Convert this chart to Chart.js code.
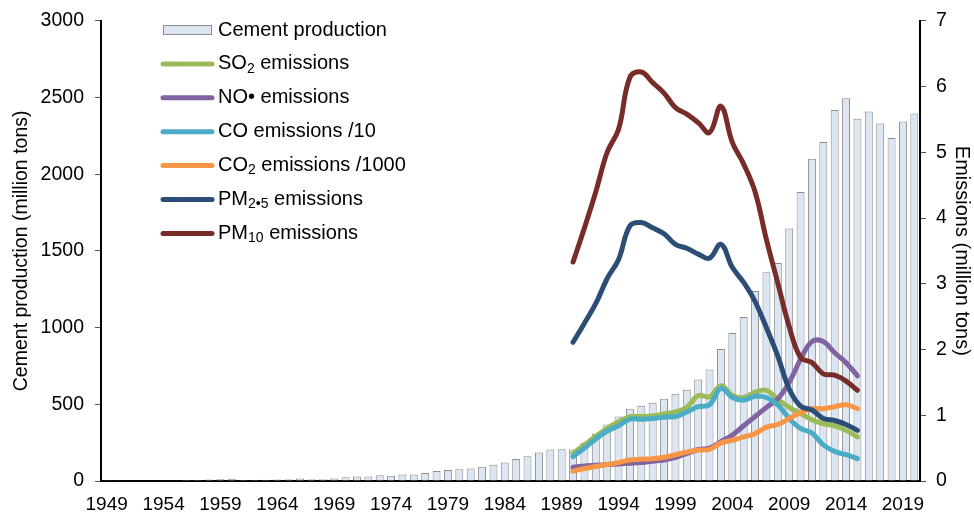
<!DOCTYPE html>
<html>
<head>
<meta charset="utf-8">
<script src="https://cdn.jsdelivr.net/npm/chart.js@4.4.1/dist/chart.umd.min.js"></script>
<style>
  html, body { margin: 0; padding: 0; background: #fff; }
  #wrap { width: 974px; height: 519px; position: relative; }
</style>
</head>
<body>
<div id="wrap"><canvas id="c" width="974" height="519"></canvas></div>
<script>
// ---- Data ----
const years = [];
for (let y = 1949; y <= 2020; y++) years.push(String(y));

// Cement production, million tons, 1949..2020
const cementProduction = [
  1, 1.4, 2.5, 3, 4, 4.6, 4.5, 6.4, 6.9, 9, 11, 14,
  6, 6, 8, 10, 12, 17, 12, 12, 16,
  24, 30, 30, 37, 34, 43, 43, 52, 65, 71,
  76, 82, 93, 106, 121, 143, 162, 186, 205, 207,
  205, 250, 309, 369, 421, 471, 490, 510, 536, 568,
  594, 661, 726, 860, 965, 1069, 1238, 1361, 1421, 1646,
  1884, 2100, 2210, 2419, 2495, 2361, 2409, 2331, 2236, 2344,
  2396
];

// Emission series, million tons, 1990..2015
const emissionYears = [];
for (let y = 1990; y <= 2015; y++) emissionYears.push(String(y));

const so2 = [0.42, 0.55, 0.68, 0.80, 0.90, 0.98, 0.98, 0.99, 1.02, 1.05,
             1.12, 1.30, 1.28, 1.45, 1.30, 1.27, 1.35, 1.38, 1.24, 1.12,
             1.03, 0.93, 0.87, 0.84, 0.77, 0.67];
const noEm = [0.21, 0.23, 0.24, 0.25, 0.26, 0.27, 0.28, 0.30, 0.32, 0.36,
              0.42, 0.48, 0.50, 0.60, 0.70, 0.84, 0.98, 1.12, 1.25, 1.50,
              1.85, 2.12, 2.12, 1.95, 1.80, 1.60];
const coDiv10 = [0.37, 0.50, 0.64, 0.76, 0.84, 0.94, 0.94, 0.95, 0.97, 0.98,
                 1.05, 1.13, 1.16, 1.41, 1.27, 1.23, 1.29, 1.27, 1.16, 0.95,
                 0.80, 0.73, 0.55, 0.45, 0.40, 0.34];
const co2Div1000 = [0.15, 0.19, 0.22, 0.25, 0.28, 0.32, 0.33, 0.34, 0.36, 0.40,
                    0.44, 0.47, 0.48, 0.58, 0.62, 0.67, 0.72, 0.82, 0.86, 0.95,
                    1.04, 1.10, 1.10, 1.13, 1.16, 1.10];
const pm25 = [2.11, 2.40, 2.70, 3.08, 3.37, 3.88, 3.93, 3.85, 3.76, 3.60,
              3.54, 3.45, 3.39, 3.60, 3.25, 3.02, 2.73, 2.33, 1.90, 1.40,
              1.14, 1.08, 0.95, 0.92, 0.86, 0.77];
const pm10 = [3.33, 3.85, 4.40, 5.00, 5.35, 6.14, 6.22, 6.06, 5.90, 5.68,
              5.58, 5.45, 5.30, 5.70, 5.15, 4.82, 4.40, 3.67, 3.01, 2.35,
              1.88, 1.80, 1.63, 1.61, 1.52, 1.38];

const leftTicks = [0, 500, 1000, 1500, 2000, 2500, 3000];
const rightTicks = [0, 1, 2, 3, 4, 5, 6, 7];

// place an emission series onto the full year axis
function onYears(series) {
  return years.map(y => {
    const i = emissionYears.indexOf(y);
    return i >= 0 ? series[i] : null;
  });
}

const FONT = '"Liberation Sans", Arial, sans-serif';
const C = {
  barFill: '#DCE6F2', barBorder: '#8C8C8C',
  so2: '#9BBB59', no: '#8064A2', co: '#4BACC6', co2: '#F79646',
  pm25: '#2C4D75', pm10: '#772C2A'
};

function lineDs(label, data, color, order) {
  return {
    type: 'line', label, data: onYears(data), yAxisID: 'y1',
    borderColor: color, backgroundColor: color, borderWidth: 5,
    pointRadius: 0, tension: 0.4, order, spanGaps: false,
    borderCapStyle: 'round', borderJoinStyle: 'round', fill: false
  };
}

// Custom legend (with subscripts), drawn inside the chart
const legendRows = [
  { kind: 'bar', parts: [['Cement production']] },
  { kind: 'line', color: C.so2, parts: [['SO'], ['2', 'sub'], [' emissions']] },
  { kind: 'line', color: C.no, parts: [['NO\u2022 emissions']] },
  { kind: 'line', color: C.co, parts: [['CO emissions /10']] },
  { kind: 'line', color: C.co2, parts: [['CO'], ['2', 'sub'], [' emissions /1000']] },
  { kind: 'line', color: C.pm25, parts: [['PM'], ['2\u20225', 'sub'], [' emissions']] },
  { kind: 'line', color: C.pm10, parts: [['PM'], ['10', 'sub'], [' emissions']] }
];

const legendPlugin = {
  id: 'insideLegend',
  afterDraw(chart) {
    const ctx = chart.ctx;
    ctx.save();
    const x0 = 163, x1 = 212, tx = 218, y0 = 30, dy = 33.9;
    legendRows.forEach((row, i) => {
      const y = y0 + i * dy;
      if (row.kind === 'bar') {
        ctx.fillStyle = C.barFill;
        ctx.fillRect(x0, y - 5, x1 - x0, 10);
        ctx.strokeStyle = C.barBorder;
        ctx.lineWidth = 1;
        ctx.strokeRect(x0 + 0.5, y - 4.5, x1 - x0 - 1, 9);
      } else {
        ctx.strokeStyle = row.color;
        ctx.lineWidth = 5;
        ctx.lineCap = 'round';
        ctx.beginPath();
        ctx.moveTo(x0, y);
        ctx.lineTo(x1, y);
        ctx.stroke();
      }
      let x = tx;
      ctx.fillStyle = '#000';
      ctx.textBaseline = 'middle';
      ctx.textAlign = 'left';
      row.parts.forEach(p => {
        if (p[1] === 'sub') {
          ctx.font = '14px ' + FONT;
          ctx.fillText(p[0], x, y + 5);
        } else {
          ctx.font = '20px ' + FONT;
          ctx.fillText(p[0], x, y);
        }
        x += ctx.measureText(p[0]).width;
      });
    });
    ctx.restore();
  }
};

const ctx = document.getElementById('c').getContext('2d');
new Chart(ctx, {
  data: {
    labels: years,
    datasets: [
      lineDs('PM10 emissions', pm10, C.pm10, 1),
      lineDs('PM2.5 emissions', pm25, C.pm25, 2),
      lineDs('CO2 emissions /1000', co2Div1000, C.co2, 3),
      lineDs('CO emissions /10', coDiv10, C.co, 4),
      lineDs('NO\u2022 emissions', noEm, C.no, 5),
      lineDs('SO2 emissions', so2, C.so2, 6),
      {
        type: 'bar', label: 'Cement production', data: cementProduction,
        yAxisID: 'y', backgroundColor: C.barFill, borderColor: C.barBorder,
        borderWidth: 1, barPercentage: 0.7, categoryPercentage: 1, order: 10
      }
    ]
  },
  options: {
    responsive: false,
    animation: false,
    devicePixelRatio: 1,
    layout: { padding: { top: 18, right: 0, left: 0, bottom: 0 } },
    plugins: { legend: { display: false }, tooltip: { enabled: false } },
    scales: {
      x: {
        type: 'category',
        offset: true,
        grid: { display: false },
        border: { display: true, color: '#000', width: 2 },
        ticks: {
          autoSkip: false, maxRotation: 0, minRotation: 0, color: '#000',
          font: { family: FONT, size: 19 }, padding: 4,
          callback: (v, i) => (i % 5 === 0 ? years[i] : '')
        },
        afterFit: s => { s.height = 38; }
      },
      y: {
        position: 'left', min: 0, max: 3000,
        afterBuildTicks: s => { s.ticks = leftTicks.map(v => ({ value: v })); },
        grid: { drawOnChartArea: false, drawTicks: true, tickLength: 6, color: '#555' },
        border: { display: true, color: '#000', width: 2 },
        ticks: {
          color: '#000', font: { family: FONT, size: 19.5, lineHeight: 1.0 }, padding: 11,
          callback: v => String(v)
        },
        title: {
          display: true, text: 'Cement production (million tons)', color: '#000',
          font: { family: FONT, size: 19.5 }, padding: { top: 10, bottom: 0 }
        },
        afterFit: s => { s.width = 101; }
      },
      y1: {
        position: 'right', min: 0, max: 7,
        afterBuildTicks: s => { s.ticks = rightTicks.map(v => ({ value: v })); },
        grid: { drawOnChartArea: false, drawTicks: true, tickLength: 6, color: '#555' },
        border: { display: true, color: '#000', width: 2 },
        ticks: {
          color: '#000', font: { family: FONT, size: 19.5, lineHeight: 1.0 }, padding: 10,
          callback: v => String(v)
        },
        title: {
          display: true, text: 'Emissions (million tons)', color: '#000',
          font: { family: FONT, size: 20 }, padding: { top: 0, bottom: 0 }
        },
        afterFit: s => { s.width = 54; }
      }
    }
  },
  plugins: [legendPlugin]
});
</script>
</body>
</html>
